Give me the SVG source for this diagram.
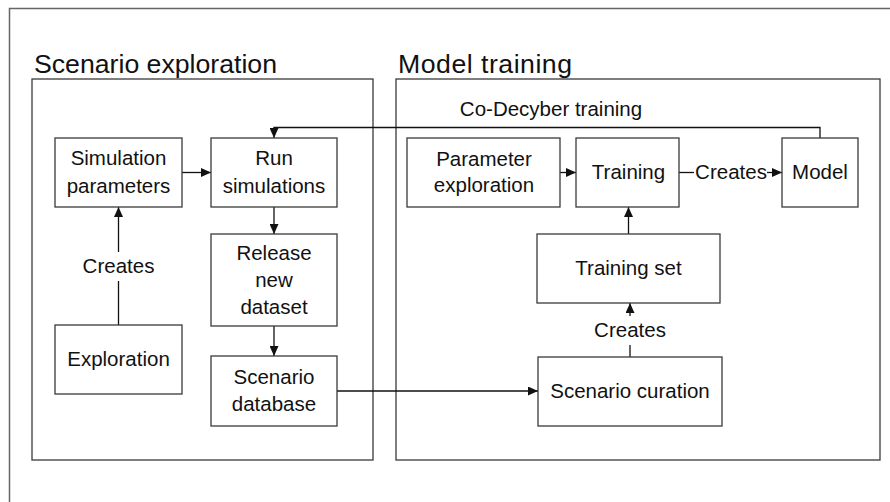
<svg xmlns="http://www.w3.org/2000/svg" width="890" height="502" viewBox="0 0 890 502">
<defs>
<marker id="ah" markerUnits="userSpaceOnUse" markerWidth="10" markerHeight="9" refX="10" refY="4.5" orient="auto">
<path d="M0,0 L10,4.5 L0,9 z" fill="#111"/>
</marker>
<style>
.frame{fill:none;stroke:#666;stroke-width:1.5}
.panel{fill:none;stroke:#3a3a3a;stroke-width:1.3}
.box{fill:#fff;stroke:#3a3a3a;stroke-width:1.3}
.t{font-family:"Liberation Sans",Arial,sans-serif;font-size:20.5px;fill:#111;text-anchor:middle}
.title{font-family:"Liberation Sans",Arial,sans-serif;font-size:26.7px;fill:#111}
.c{fill:none;stroke:#111;stroke-width:1.3}
.ca{fill:none;stroke:#111;stroke-width:1.3;marker-end:url(#ah)}
</style>
</defs>
<rect width="890" height="502" fill="#fff"/>
<path class="frame" d="M890,8.5 H9.5 V502"/>

<g id="panel-scenario">
<rect class="panel" x="32" y="79" width="341" height="381"/>
<text class="title" x="34" y="73" textLength="243">Scenario exploration</text>
</g>
<g id="panel-model">
<rect class="panel" x="396" y="79" width="484" height="381"/>
<text class="title" x="398" y="73" textLength="174">Model training</text>
</g>

<g id="connectors">
<path class="ca" d="M182,172.5 H211"/>
<path class="ca" d="M274,207 V234"/>
<path class="ca" d="M274,326 V356"/>
<path class="c" d="M118.5,325 V281"/>
<path class="ca" d="M118.5,252 V207"/>
<text class="t" x="118.5" y="273">Creates</text>
<path class="ca" d="M337,391 H538"/>
<path class="c" d="M630,357 V345"/>
<path class="ca" d="M630,316 V303"/>
<text class="t" x="630" y="337">Creates</text>
<path class="ca" d="M628.5,234 V207"/>
<path class="ca" d="M560,172.5 H576"/>
<path class="c" d="M679,172.5 H694"/>
<text class="t" x="731" y="179">Creates</text>
<path class="ca" d="M767,172.5 H782"/>
<path class="ca" d="M820,138 V127.5 H274 V138"/>
<text class="t" x="551" y="116">Co-Decyber training</text>
</g>

<g id="sim-params">
<rect class="box" x="55" y="138" width="127" height="69"/>
<text class="t" x="118.5" y="165">Simulation</text>
<text class="t" x="118.5" y="193">parameters</text>
</g>
<g id="run-sims">
<rect class="box" x="211" y="138" width="126" height="69"/>
<text class="t" x="274" y="165">Run</text>
<text class="t" x="274" y="193">simulations</text>
</g>
<g id="release">
<rect class="box" x="211" y="234" width="126" height="92"/>
<text class="t" x="274" y="260">Release</text>
<text class="t" x="274" y="287">new</text>
<text class="t" x="274" y="314">dataset</text>
</g>
<g id="exploration">
<rect class="box" x="55" y="325" width="127" height="69"/>
<text class="t" x="118.5" y="366">Exploration</text>
</g>
<g id="scenario-db">
<rect class="box" x="211" y="356" width="126" height="70"/>
<text class="t" x="274" y="384">Scenario</text>
<text class="t" x="274" y="411">database</text>
</g>
<g id="param-exploration">
<rect class="box" x="407" y="138" width="153" height="69"/>
<text class="t" x="484" y="166">Parameter</text>
<text class="t" x="484" y="192">exploration</text>
</g>
<g id="training">
<rect class="box" x="576" y="138" width="103" height="69"/>
<text class="t" x="628.5" y="179">Training</text>
</g>
<g id="model">
<rect class="box" x="782" y="138" width="76" height="69"/>
<text class="t" x="820" y="179">Model</text>
</g>
<g id="training-set">
<rect class="box" x="537" y="234" width="183" height="69"/>
<text class="t" x="628.5" y="275">Training set</text>
</g>
<g id="scenario-curation">
<rect class="box" x="538" y="357" width="184" height="69"/>
<text class="t" x="630" y="398">Scenario curation</text>
</g>
</svg>
